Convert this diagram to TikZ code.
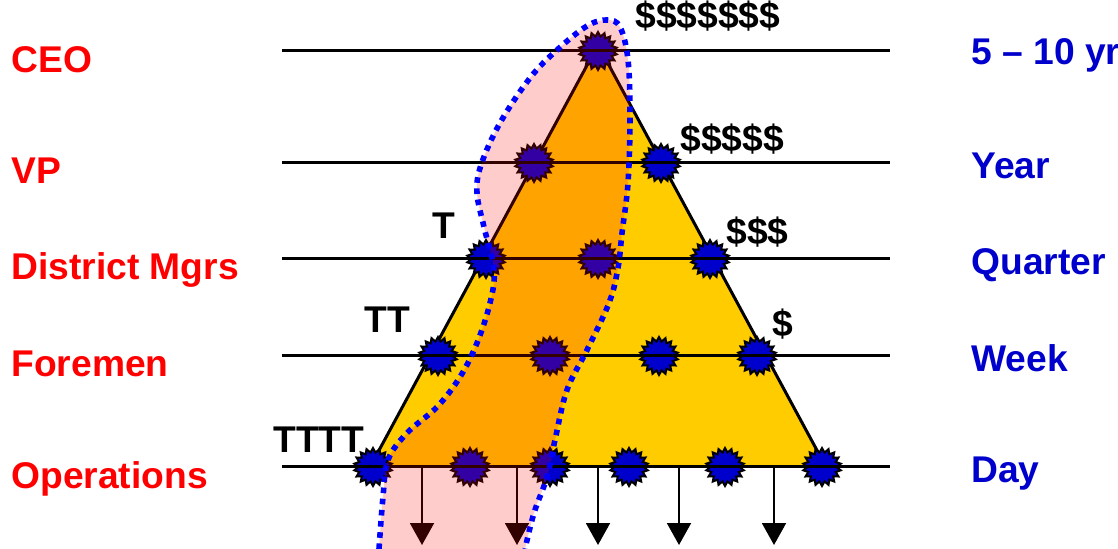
\documentclass[tikz,border=0pt]{standalone}
\usepackage{fontspec}
\setmainfont{Liberation Sans}
\usetikzlibrary{arrows.meta, shapes.geometric}
\definecolor{rankred}{HTML}{FF0000}
\definecolor{termblue}{HTML}{0000CC}
\definecolor{pyrayellow}{HTML}{FFCC00}
\definecolor{dotblue}{HTML}{0000FF}
\newcommand{\spanpts}{plot[smooth,tension=0.6] coordinates {(379,549) (383,497) (388,460)
  (407,433) (437,407) (460,377) (477,343) (490,303) (494,270) (484,227) (477,193)
  (481,165) (500,123) (530,78) (557,50) (587,26) (607,20) (620,27) (628,60) (630,117)
  (628,183) (622,233) (618,268) (609,303) (587,350) (567,390) (555,440) (547,477)
  (534,513) (525,549)}}

\begin{document}
\begin{tikzpicture}[x=0.5pt,y=-0.5pt,>={Triangle[width=12pt,length=11pt]},
  bluestar/.style={star,star points=18,star point ratio=1.3,minimum size=19pt,
    inner sep=0pt,fill=termblue,draw=black,line width=1pt},
  lbl/.style={anchor=base west,inner sep=0pt,font=\bfseries\fontsize{18.6}{22}\selectfont}]
  \useasboundingbox (0,0) rectangle (1118,549);
  % pyramid
  \fill[pyrayellow] (598,45) -- (370,467) -- (826,467) -- cycle;
  \draw[line width=1.5pt] (370,467) -- (598,45) -- (826,467);
  % stars
  \foreach \sx/\sy/\sn in {598/51/ceo, 534/163/vpa, 661/163/vpb,
    486/259/dma, 598/259/dmb, 710/259/dmc,
    438/356/fma, 550/356/fmb, 659/356/fmc, 757/356/fmd,
    373/467/opa, 470/467/opb, 550/467/opc, 629/467/opd, 725/467/ope, 822/467/opf}
    \node[bluestar] (\sn) at (\sx,\sy) {};
  % levels
  \foreach \ly in {51,163,259,356,467}
    \draw[line width=1.5pt] (282,\ly) -- (890,\ly);
  % work handed down
  \foreach \ax in {422,517,598,679,774}{
    \coordinate (top\ax) at (\ax,467);
    \coordinate (bot\ax) at (\ax,545);
    \draw[->,line width=1pt] (top\ax) -- (bot\ax);}
  % span of one chain
  \fill[rankred,opacity=0.2] \spanpts -- cycle;
  \draw[dotblue,line width=2.8pt,dash pattern=on 2.8pt off 2.8pt] \spanpts;
  % ranks
  \foreach \ty/\rk in {73/CEO, 184/VP, 280/District Mgrs, 377/Foremen, 488/Operations}
    \node[lbl,text=rankred] (rank\ty) at (11,\ty) {\rk};
  % horizons
  \foreach \ty/\hz in {65/5 \textendash{} 10 yr, 179/Year, 275/Quarter, 372/Week, 482/Day}
    \node[lbl,text=termblue] (hz\ty) at (971,\ty) {\hz};
  % pay and tasks
  \node[lbl] (pay7) at (635,29) {\$\$\$\$\$\$\$};
  \node[lbl] (pay5) at (680,152) {\$\$\$\$\$};
  \node[lbl] (pay3) at (726,245) {\$\$\$};
  \node[lbl] (pay1) at (772,337) {\$};
  \node[lbl] (task1) at (432,239) {T};
  \node[lbl] (task2) at (364,333) {TT};
  \node[lbl] (task4) at (273,453) {TTTT};
\end{tikzpicture}
\end{document}
